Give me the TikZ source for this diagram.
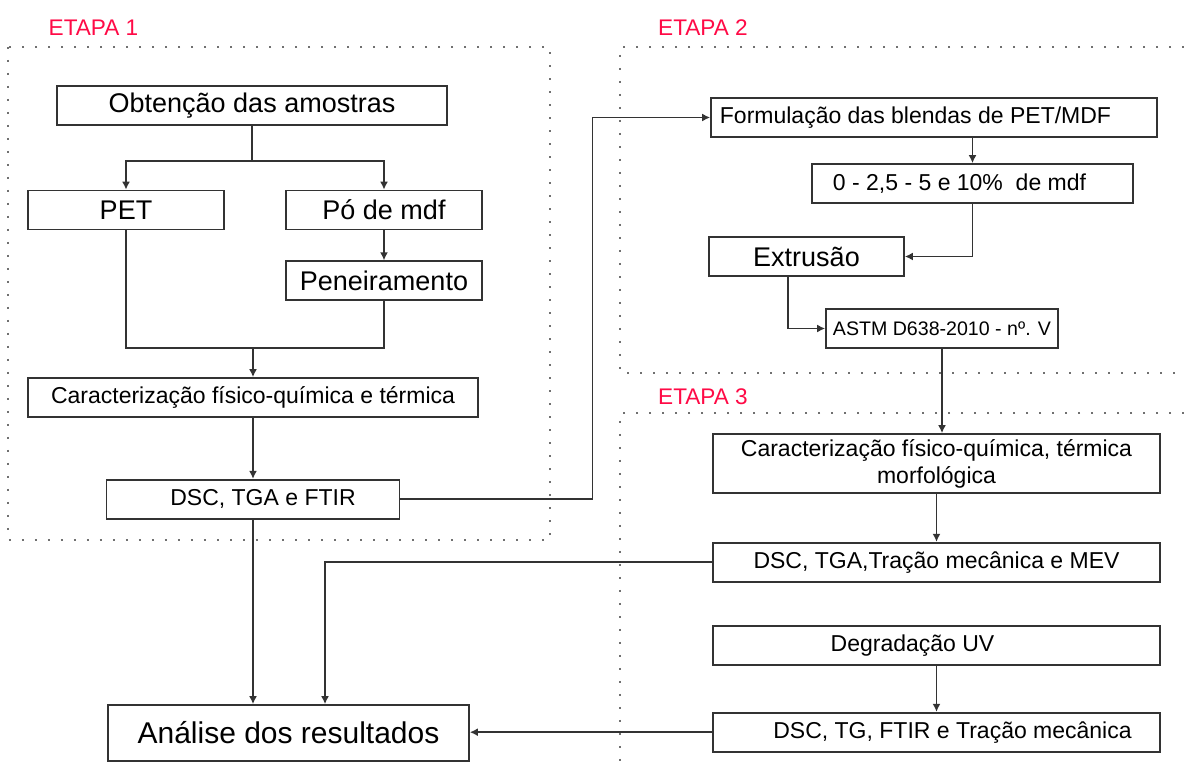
\documentclass[tikz,border=0pt]{standalone}
\usepackage{fontspec}
\setmainfont{Liberation Sans}
\usepackage{xcolor}
\usepackage{tikz}
\usetikzlibrary{positioning,arrows.meta,calc}
\definecolor{etapared}{HTML}{FF0A46}
\definecolor{linegrey}{HTML}{333333}
\definecolor{dotgrey}{HTML}{707070}
\tikzset{
  box/.style    = {draw=linegrey, line width=0.85pt, align=center, inner sep=2pt,
                   minimum height=19.5pt, font=\fontsize{11.5}{13.5}\selectfont},
  bigbox/.style = {box, font=\fontsize{13.5}{15}\selectfont},
  arr/.style    = {-{Latex[length=4pt,width=4pt]}, line width=0.85pt, draw=linegrey},
  conn/.style   = {line width=0.85pt, draw=linegrey},
  etapa/.style  = {text=etapared, font=\fontsize{11.3}{13}\selectfont, inner sep=0pt},
  zone/.style   = {draw=dotgrey, line width=0.8pt, dash pattern=on 0.8pt off 5.7pt},
}

\begin{document}
\begin{tikzpicture}[x=0.5pt, y=-0.5pt]
  \useasboundingbox[fill=white] (0,0) rectangle (1184,769);

  % --- dotted zones and stage titles ---
  \draw[zone] (8,47) rectangle (550,540);
  \draw[zone] (1184,47) -- (620,47) -- (620,373) -- (1184,373);
  \draw[zone] (1184,413) -- (620,413) -- (620,769);
  \node[etapa] (et1) at (93.5,28)  {ETAPA 1};
  \node[etapa] (et2) at (703,28)   {ETAPA 2};
  \node[etapa] (et3) at (703,397)  {ETAPA 3};

  % --- etapa 1 ---
  \node[bigbox, minimum width=195pt] (obt) at (252,105.5) {Obtenção das amostras};
  \node[bigbox, minimum width=98pt]  (pet) at (126,210)   {PET};
  \node[bigbox, minimum width=98pt]  (po)  at (384,210)   {Pó de mdf};
  \node[bigbox, minimum width=98pt, below=15pt of po] (pen) {Peneiramento};
  \node[box, minimum width=225pt] (car1) at (253,397.5) {Caracterização físico-química e térmica};
  \node[box, minimum width=146.5pt, below=30.5pt of car1] (dsc1) {\hspace*{10pt}DSC, TGA e FTIR};
  \node[box, font=\fontsize{15}{17}\selectfont, minimum width=180.5pt, minimum height=28pt]
       (ana) at (288.5,733) {Análise dos resultados};

  % --- etapa 2 ---
  \node[box, minimum width=223pt] (form) at (934,117.5) {Formulação das blendas de PET/MDF\hspace*{18.5pt}};
  \node[box, minimum width=160.5pt] (perc) at (972.5,183.5) {0 - 2,5 - 5 e 10\%\ \ de mdf\hspace*{13pt}};
  \node[bigbox, minimum width=97.5pt] (ext) at (806.5,256.5) {Extrusão};
  \node[box, font=\fontsize{9.8}{11}\selectfont, minimum width=116pt] (astm) at (942,328.5) {ASTM D638-2010 - nº. V};

  % --- etapa 3 ---
  \node[box, minimum width=223.5pt, minimum height=29.5pt] (car2) at (936.5,463.5)
       {Caracterização físico-química, térmica\\morfológica};
  \node[box, minimum width=223.5pt, below=24pt of car2] (dsc2) {DSC, TGA,Tração mecânica e MEV};
  \node[box, minimum width=223.5pt] (uv) at (936.5,645.5) {Degradação UV\hspace*{24pt}};
  \node[box, minimum width=223.5pt, below=23pt of uv] (dsc3) {\hspace*{16pt}DSC, TG, FTIR e Tração mecânica};

  % --- connectors ---
  \draw[arr] (obt.south) -- ++(0,35) -| (pet.north);
  \draw[arr] (obt.south) -- ++(0,35) -| (po.north);
  \draw[arr] (po) -- (pen);
  \coordinate (merge) at (253,348);
  \draw[conn] (pet.south) |- (merge) -| (pen.south);
  \draw[arr] (merge) -- (car1.north);
  \draw[arr] (car1) -- (dsc1);
  \draw[arr] (dsc1.south) -- (dsc1.south |- ana.north);
  \draw[arr] (dsc1.east) -- ++(192,0) |- (form.west);
  \draw[arr] (form.south -| perc.north) -- (perc.north);
  \draw[arr] (perc.south) |- (ext.east);
  \draw[arr] ($(ext.south)+(-18.5,0)$) |- (astm.west);
  \draw[arr] (astm.south) -- (astm.south |- car2.north);
  \draw[arr] (car2) -- (dsc2);
  \draw[arr] (dsc2.west) -| ($(ana.north)+(36.5,0)$);
  \draw[arr] (uv) -- (dsc3);
  \draw[arr] (dsc3.west) -- (dsc3.west -| ana.east);
\end{tikzpicture}
\end{document}
